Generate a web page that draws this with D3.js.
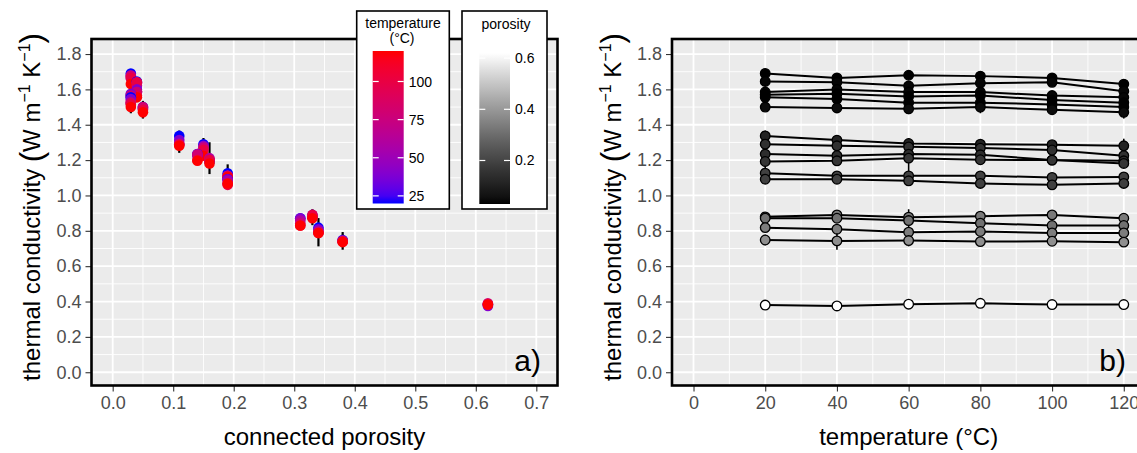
<!DOCTYPE html>
<html lang="en">
<head>
  <meta charset="UTF-8">
  <title>Thermal conductivity vs porosity and temperature</title>
  <script src="https://d3js.org/d3.v7.min.js"></script>
  <style>
    body {
      margin: 0;
      background-color: #fff;
      font-family: "Liberation Sans", Arial, sans-serif;
    }
    .tick text {
      fill: #4d4d4d;
      font-size: 18px;
      font-family: "Liberation Sans", Arial, sans-serif;
    }
    .tick line {
      stroke: #333;
      stroke-width: 1.1px;
    }
  </style>
</head>
<body>

<div id="chart"></div>

<script>
  // data
  const temps = [20, 40, 60, 80, 100, 120];
  const porosity = [0.03, 0.04, 0.04, 0.03, 0.03, 0.05,
                    0.11, 0.15, 0.14, 0.16, 0.19, 0.19,
                    0.33, 0.31, 0.34, 0.38, 0.62];
  const conductivity = [
    [1.690, 1.665, 1.680, 1.675, 1.665, 1.630],
    [1.645, 1.640, 1.620, 1.635, 1.640, 1.590],
    [1.585, 1.600, 1.585, 1.585, 1.565, 1.555],
    [1.570, 1.575, 1.560, 1.565, 1.540, 1.525],
    [1.555, 1.545, 1.525, 1.525, 1.515, 1.500],
    [1.500, 1.495, 1.490, 1.500, 1.485, 1.470],
    [1.337, 1.313, 1.294, 1.290, 1.287, 1.281],
    [1.290, 1.281, 1.275, 1.268, 1.257, 1.225],
    [1.234, 1.225, 1.234, 1.230, 1.200, 1.196],
    [1.192, 1.196, 1.211, 1.202, 1.200, 1.181],
    [1.126, 1.111, 1.111, 1.111, 1.102, 1.105],
    [1.092, 1.092, 1.083, 1.068, 1.060, 1.068],
    [0.879, 0.890, 0.877, 0.883, 0.890, 0.871],
    [0.871, 0.871, 0.858, 0.843, 0.830, 0.830],
    [0.818, 0.809, 0.792, 0.796, 0.788, 0.788],
    [0.748, 0.743, 0.745, 0.739, 0.741, 0.736],
    [0.380, 0.375, 0.385, 0.390, 0.383, 0.383]
  ];
  const errors = [
    [0.010, 0.010, 0.010, 0.010, 0.010, 0.010],
    [0.010, 0.010, 0.010, 0.010, 0.010, 0.010],
    [0.010, 0.010, 0.015, 0.010, 0.010, 0.010],
    [0.010, 0.010, 0.010, 0.015, 0.010, 0.010],
    [0.010, 0.015, 0.020, 0.015, 0.015, 0.035],
    [0.010, 0.010, 0.030, 0.035, 0.020, 0.035],
    [0.030, 0.010, 0.020, 0.010, 0.010, 0.040],
    [0.020, 0.015, 0.050, 0.015, 0.020, 0.020],
    [0.015, 0.010, 0.010, 0.010, 0.010, 0.015],
    [0.010, 0.030, 0.090, 0.010, 0.015, 0.020],
    [0.050, 0.020, 0.020, 0.015, 0.015, 0.020],
    [0.010, 0.010, 0.015, 0.010, 0.010, 0.010],
    [0.010, 0.015, 0.045, 0.010, 0.010, 0.010],
    [0.010, 0.010, 0.010, 0.010, 0.010, 0.010],
    [0.010, 0.010, 0.080, 0.010, 0.010, 0.010],
    [0.030, 0.050, 0.010, 0.010, 0.010, 0.010],
    [0.010, 0.010, 0.010, 0.010, 0.010, 0.010]
  ];
  const yTicks = [0, 0.2, 0.4, 0.6, 0.8, 1.0, 1.2, 1.4, 1.6, 1.8];
  const porTicks = [0, 0.1, 0.2, 0.3, 0.4, 0.5, 0.6, 0.7];
  const tempTicks = [0, 20, 40, 60, 80, 100, 120];
  const tempLegendTicks = [25, 50, 75, 100];
  const porLegendTicks = [0.2, 0.4, 0.6];

  const width = 1137;
  const height = 453;

  const samples = porosity.map((p, i) => ({
    porosity: p,
    values: temps.map((t, j) => ({
      porosity: p, temp: t, k: conductivity[i][j], sd: errors[i][j]
    }))
  }));
  const points = samples.flatMap(s => s.values);

  const svg = d3.select("#chart")
    .append("svg")
    .attr("width", width)
    .attr("height", height);

  const tempColor = d3.scaleLinear().domain([20, 120])
    .range(["#0000ff", "#ff0000"]).interpolate(d3.interpolateLab);
  const porColor = d3.scaleLinear().domain([0.03, 0.62])
    .range(["#000000", "#ffffff"]).interpolate(d3.interpolateLab);

  const yL = d3.scaleLinear().domain([-0.075, 1.885]).range([385.5, 39]);
  const xL = d3.scaleLinear().domain([-0.035, 0.735]).range([91.5, 557.5]);
  const xR = d3.scaleLinear().domain([-6, 126]).range([672, 1145.3]);

  // draw the grey panel with grid lines
  function panel(x, y, majorX, minorX, label) {
    const g = svg.append("g");
    const [x0, x1] = x.range();
    const [y0, y1] = y.range();
    g.append("rect")
      .attr("x", x0).attr("y", y1)
      .attr("width", x1 - x0).attr("height", y0 - y1)
      .attr("fill", "#ebebeb");
    const minorY = d3.range(0.1, 1.9, 0.2);
    g.selectAll(".minx").data(minorX).enter().append("line")
      .attr("x1", d => x(d)).attr("x2", d => x(d))
      .attr("y1", y1).attr("y2", y0)
      .attr("stroke", "#fff").attr("stroke-width", 0.9);
    g.selectAll(".miny").data(minorY).enter().append("line")
      .attr("x1", x0).attr("x2", x1)
      .attr("y1", d => y(d)).attr("y2", d => y(d))
      .attr("stroke", "#fff").attr("stroke-width", 0.9);
    g.selectAll(".majx").data(majorX).enter().append("line")
      .attr("x1", d => x(d)).attr("x2", d => x(d))
      .attr("y1", y1).attr("y2", y0)
      .attr("stroke", "#fff").attr("stroke-width", 1.8);
    g.selectAll(".majy").data(yTicks).enter().append("line")
      .attr("x1", x0).attr("x2", x1)
      .attr("y1", d => y(d)).attr("y2", d => y(d))
      .attr("stroke", "#fff").attr("stroke-width", 1.8);

    const ax = svg.append("g")
      .attr("transform", `translate(0,${y0})`)
      .call(d3.axisBottom(x).tickValues(majorX).tickSize(6).tickPadding(5)
        .tickFormat(label));
    ax.select(".domain").remove();
    const ay = svg.append("g")
      .attr("transform", `translate(${x0},0)`)
      .call(d3.axisLeft(y).tickValues(yTicks).tickSize(6).tickPadding(4)
        .tickFormat(d3.format(".1f")));
    ay.select(".domain").remove();
    return g;
  }

  function border(x, y) {
    const [x0, x1] = x.range();
    const [y0, y1] = y.range();
    svg.append("rect")
      .attr("x", x0).attr("y", y1)
      .attr("width", x1 - x0).attr("height", y0 - y1)
      .attr("fill", "none").attr("stroke", "#000").attr("stroke-width", 2.6);
  }

  function yTitle(xpos) {
    const t = svg.append("text")
      .attr("transform", `translate(${xpos},${207}) rotate(-90)`)
      .attr("text-anchor", "middle")
      .attr("font-size", 24)
      .attr("fill", "#000");
    t.append("tspan").text("thermal conductivity ");
    t.append("tspan").attr("font-size", 31).attr("dy", 2).text("(");
    t.append("tspan").attr("dy", -2).text("W m");
    t.append("tspan").attr("font-size", 16).attr("dy", -10).text("−1");
    t.append("tspan").attr("dy", 10).text(" K");
    t.append("tspan").attr("font-size", 16).attr("dy", -10).text("−1");
    t.append("tspan").attr("font-size", 31).attr("dy", 12).text(")");
  }

  // ---- panel a ----
  panel(xL, yL, porTicks, d3.range(0.05, 0.7, 0.1), d3.format(".1f"));

  const pa = svg.append("g");
  pa.selectAll(".err").data(points).enter().append("line")
    .attr("x1", d => xL(d.porosity)).attr("x2", d => xL(d.porosity))
    .attr("y1", d => yL(d.k - d.sd)).attr("y2", d => yL(d.k + d.sd))
    .attr("stroke", "#000").attr("stroke-width", 2.2);
  pa.selectAll(".pt").data(points).enter().append("circle")
    .attr("cx", d => xL(d.porosity))
    .attr("cy", d => yL(d.k))
    .attr("r", 5.3)
    .attr("fill", d => tempColor(d.temp));

  svg.append("text")
    .attr("x", 541).attr("y", 371)
    .attr("text-anchor", "end")
    .attr("font-size", 30)
    .text("a)");

  border(xL, yL);

  svg.append("text")
    .attr("x", (xL(0) + xL(0.7)) / 2).attr("y", 445)
    .attr("text-anchor", "middle")
    .attr("font-size", 24)
    .text("connected porosity");
  yTitle(40);

  // ---- panel b ----
  panel(xR, yL, tempTicks, d3.range(10, 125, 20), d3.format("d"));

  const pb = svg.append("g");
  const line = d3.line().x(d => xR(d.temp)).y(d => yL(d.k));
  pb.selectAll(".ln").data(samples).enter().append("path")
    .attr("d", d => line(d.values))
    .attr("fill", "none")
    .attr("stroke", "#000")
    .attr("stroke-width", 2);
  pb.selectAll(".err").data(points).enter().append("line")
    .attr("x1", d => xR(d.temp)).attr("x2", d => xR(d.temp))
    .attr("y1", d => yL(d.k - d.sd)).attr("y2", d => yL(d.k + d.sd))
    .attr("stroke", "#000").attr("stroke-width", 1.6);
  pb.selectAll(".pt").data(points).enter().append("circle")
    .attr("cx", d => xR(d.temp))
    .attr("cy", d => yL(d.k))
    .attr("r", 4.8)
    .attr("fill", d => porColor(d.porosity))
    .attr("stroke", "#000")
    .attr("stroke-width", 1.3);

  svg.append("text")
    .attr("x", 1126).attr("y", 371)
    .attr("text-anchor", "end")
    .attr("font-size", 30)
    .text("b)");

  border(xR, yL);

  const tt = svg.append("text")
    .attr("x", (xR(0) + xR(120)) / 2).attr("y", 445)
    .attr("text-anchor", "middle")
    .attr("font-size", 24);
  tt.text("temperature (°C)");
  yTitle(620.5);

  // ---- legends ----
  const defs = svg.append("defs");
  function gradient(id, scale, lo, hi) {
    const gr = defs.append("linearGradient").attr("id", id)
      .attr("x1", 0).attr("x2", 0).attr("y1", 1).attr("y2", 0);
    d3.range(0, 1.0001, 0.05).forEach(f => {
      gr.append("stop").attr("offset", f).attr("stop-color", scale(lo + f * (hi - lo)));
    });
  }
  gradient("gTemp", tempColor, 20, 120);
  gradient("gPor", porColor, 0.03, 0.62);

  function legend(box, bar, scale, domain, ticks, fmt, gid) {
    svg.append("rect")
      .attr("x", box[0]).attr("y", box[1])
      .attr("width", box[2]).attr("height", box[3])
      .attr("fill", "#fff").attr("stroke", "#000").attr("stroke-width", 1.6);
    const ly = d3.scaleLinear().domain(domain).range([bar[1] + bar[3], bar[1]]);
    svg.append("rect")
      .attr("x", bar[0]).attr("y", bar[1])
      .attr("width", bar[2]).attr("height", bar[3])
      .attr("fill", `url(#${gid})`);
    const g = svg.append("g");
    ticks.forEach(t => {
      g.append("line").attr("x1", bar[0]).attr("x2", bar[0] + 6)
        .attr("y1", ly(t)).attr("y2", ly(t))
        .attr("stroke", "#fff").attr("stroke-width", 1.2);
      g.append("line").attr("x1", bar[0] + bar[2] - 6).attr("x2", bar[0] + bar[2])
        .attr("y1", ly(t)).attr("y2", ly(t))
        .attr("stroke", "#fff").attr("stroke-width", 1.2);
      g.append("text").attr("x", bar[0] + bar[2] + 5).attr("y", ly(t) + 5)
        .attr("font-size", 14).attr("fill", "#000").text(fmt(t));
    });
  }

  legend([356.7, 11, 92.6, 198], [372.7, 51, 31, 152.5], tempColor, [20, 120],
    tempLegendTicks, d3.format("d"), "gTemp");
  svg.append("text").attr("x", 403).attr("y", 28)
    .attr("text-anchor", "middle").attr("font-size", 14).text("temperature");
  svg.append("text").attr("x", 402).attr("y", 43)
    .attr("text-anchor", "middle").attr("font-size", 14).text("(°C)");

  legend([462, 11, 85, 198], [479.3, 53, 30.7, 151], porColor, [0.03, 0.62],
    porLegendTicks, d3.format(".1f"), "gPor");
  svg.append("text").attr("x", 481.5).attr("y", 29)
    .attr("font-size", 14).text("porosity");
</script>

</body>
</html>
